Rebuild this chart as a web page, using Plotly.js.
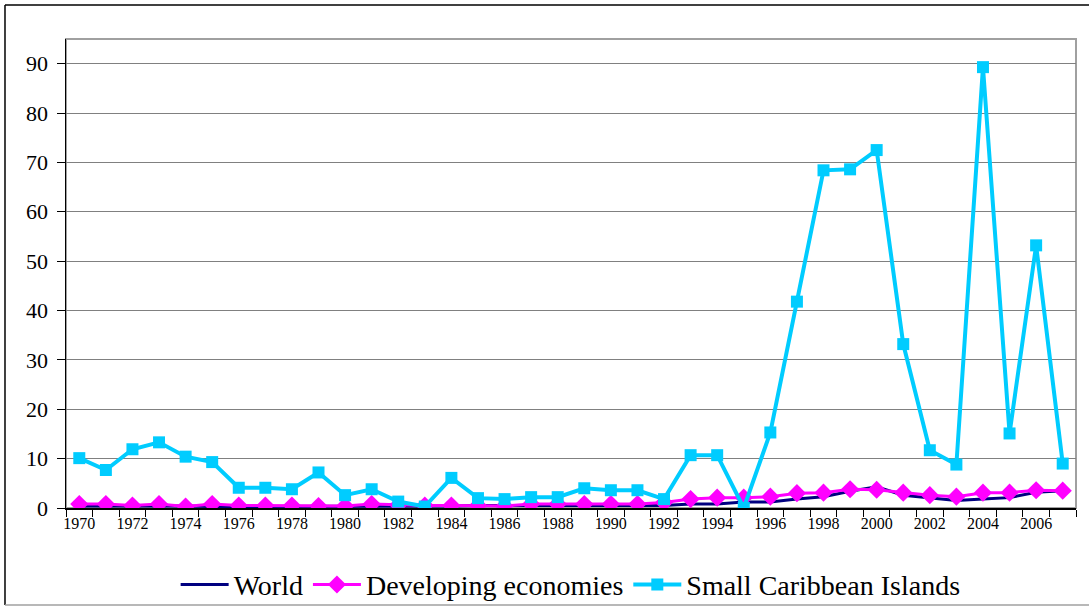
<!DOCTYPE html>
<html>
<head>
<meta charset="utf-8">
<script src="https://cdn.plot.ly/plotly-3.0.1.min.js"></script>
<style>html,body{margin:0;padding:0;background:#fff;}#chart{width:1089px;height:606px;}</style>
</head>
<body>
<div id="chart"></div>
<script>
const years = [1970,1971,1972,1973,1974,1975,1976,1977,1978,1979,1980,1981,1982,1983,1984,1985,1986,1987,1988,1989,1990,1991,1992,1993,1994,1995,1996,1997,1998,1999,2000,2001,2002,2003,2004,2005,2006,2007];
const world = [0.4,0.4,0.4,0.5,0.4,0.3,0.3,0.3,0.4,0.4,0.4,0.4,0.4,0.4,0.4,0.5,0.5,0.6,0.6,0.6,0.6,0.5,0.5,0.8,0.8,1.2,1.2,1.8,2.3,3.4,4.3,2.6,2.1,1.5,1.8,2.1,3.2,3.5];
const developing = [0.8,0.8,0.5,0.8,0.3,0.8,0.5,0.5,0.5,0.4,0.4,0.8,0.6,0.5,0.5,0.5,0.4,0.8,0.8,0.8,0.8,0.8,1.1,1.8,2.1,2.1,2.3,3.0,3.1,3.8,3.7,3.1,2.6,2.3,3.1,3.1,3.6,3.5];
const caribbean = [10.1,7.7,11.9,13.3,10.4,9.3,4.1,4.1,3.8,7.2,2.6,3.8,1.3,0.3,6.1,2.0,1.8,2.2,2.2,4.0,3.6,3.6,1.8,10.7,10.7,0.0,15.3,41.8,68.4,68.6,72.5,33.2,11.7,8.8,89.3,15.1,53.2,9.0];
const xTickYears = [1970,1972,1974,1976,1978,1980,1982,1984,1986,1988,1990,1992,1994,1996,1998,2000,2002,2004,2006];
const yTicks = [0,10,20,30,40,50,60,70,80,90];

const font = 'Liberation Serif';

const traces = [
  {x: years, y: world, name: 'World', type: 'scatter', mode: 'lines',
   line: {color: '#000080', width: 3}},
  {x: years, y: developing, name: 'Developing economies', type: 'scatter', mode: 'lines+markers',
   line: {color: '#FF00FF', width: 3}, marker: {symbol: 'diamond', size: 14, color: '#FF00FF'}},
  {x: years, y: caribbean, name: 'Small Caribbean Islands', type: 'scatter', mode: 'lines+markers',
   line: {color: '#00CCFF', width: 4}, marker: {symbol: 'square', size: 12, color: '#00CCFF'}}
];

const layout = {
  width: 1089, height: 606,
  margin: {l: 66, r: 13, t: 39, b: 98},
  paper_bgcolor: '#fff', plot_bgcolor: '#fff',
  showlegend: true,
  legend: {orientation: 'h', x: 0.524, xref: 'container', xanchor: 'center', y: 0.035, yref: 'container', yanchor: 'middle',
    bgcolor: 'rgba(0,0,0,0)', itemwidth: 48,
    font: {family: font, size: 28, color: '#000'}, tracegroupgap: 0},
  xaxis: {
    range: [1969.5, 2007.5], tickvals: xTickYears, ticktext: xTickYears.map(String),
    ticks: '', showgrid: false, zeroline: false, automargin: false,
    showline: true, linecolor: '#000', linewidth: 1.5,
    tickfont: {family: font, size: 16, color: '#000'},
    minor: {tick0: 1969.5, dtick: 1, ticks: 'outside', ticklen: 7, tickcolor: '#000', tickwidth: 1, showgrid: false}
  },
  yaxis: {
    range: [0, 95], tickvals: yTicks, ticks: 'outside', ticklen: 8, tickcolor: '#000',
    showgrid: true, gridcolor: '#808080', gridwidth: 1, zeroline: false, automargin: false,
    showline: true, linecolor: '#000', linewidth: 1.5,
    tickfont: {family: font, size: 22, color: '#000'}, ticklabelstandoff: 4
  },
  shapes: [
    {type: 'rect', xref: 'paper', yref: 'paper', x0: 0, x1: 1, y0: 0, y1: 1,
     line: {color: '#a0a0a0', width: 2}, layer: 'below'},
    {type: 'line', xref: 'paper', yref: 'paper', x0: -0.0604, x1: -0.0604, y0: -0.2068, y1: 1.0725,
     line: {color: '#000', width: 1.5}},
    {type: 'line', xref: 'paper', yref: 'paper', x0: -0.0604, x1: 1.02, y0: 1.0725, y1: 1.0725,
     line: {color: '#000', width: 1.5}},
    {type: 'line', xref: 'paper', yref: 'paper', x0: -0.0604, x1: 1.02, y0: -0.2068, y1: -0.2068,
     line: {color: '#a0a0a0', width: 1.5}}
  ]
};

Plotly.newPlot('chart', traces, layout, {displayModeBar: false, staticPlot: true});
</script>
</body>
</html>
